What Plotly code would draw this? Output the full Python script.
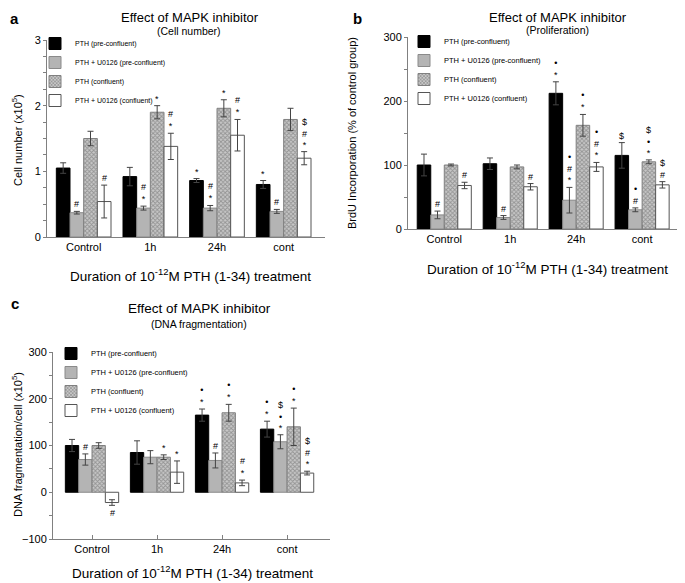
import plotly.graph_objects as go

# Efecto del inhibidor de MAPK: tres paneles (a, b, c)
grupos = ["Control", "1h", "24h", "cont"]
series = ["PTH (pre-confluent)", "PTH + U0126 (pre-confluent)",
          "PTH (confluent)", "PTH + U0126 (confluent)"]

# panel a - cell number (x10^5)
a_pth_pre = [1.05, 0.92, 0.86, 0.80]
a_pth_pre_err = [0.08, 0.14, 0.03, 0.06]
a_u0126_pre = [0.37, 0.44, 0.44, 0.39]
a_u0126_pre_err = [0.02, 0.03, 0.04, 0.03]
a_pth_conf = [1.50, 1.90, 1.96, 1.79]
a_pth_conf_err = [0.11, 0.10, 0.13, 0.17]
a_u0126_conf = [0.54, 1.38, 1.55, 1.20]
a_u0126_conf_err = [0.25, 0.20, 0.24, 0.10]
a_marks = [["", "", "*", "*"],
           ["#", "#<br>*", "#<br>*", "#"],
           ["", "*", "*", ""],
           ["#", "#<br>*", "#<br>*", "$<br>#<br>*"]]

# panel b - BrdU incorporation (% of control)
b_pth_pre = [100, 102, 212, 115]
b_pth_pre_err = [17, 9, 18, 20]
b_u0126_pre = [22, 18, 45, 30]
b_u0126_pre_err = [6, 3, 20, 3]
b_pth_conf = [100, 97, 162, 105]
b_pth_conf_err = [1.5, 3, 17, 3]
b_u0126_conf = [68, 66, 97, 69]
b_u0126_conf_err = [5, 5, 7, 5]
b_marks = [["", "", "•<br>*", "$"],
           ["#", "#", "•<br>#<br>*", "•<br>#"],
           ["", "", "•<br>*", "$<br>•<br>*"],
           ["#", "#", "•<br>#<br>*", "$<br>#"]]

# panel c - DNA fragmentation/cell (x10^5)
c_pth_pre = [100, 85, 165, 135]
c_pth_pre_err = [13, 25, 13, 17]
c_u0126_pre = [70, 75, 68, 108]
c_u0126_pre_err = [12, 14, 16, 15]
c_pth_conf = [100, 75, 170, 140]
c_pth_conf_err = [6, 5, 18, 40]
c_u0126_conf = [-22, 43, 20, 41]
c_u0126_conf_err = [6, 24, 6, 4]
c_marks = [["", "", "•<br>*", "•<br>*"],
           ["#", "", "#", "$<br>•<br>*"],
           ["", "*", "•<br>*", "•<br>*"],
           ["#", "*", "#<br>*", "$<br>#<br>*"]]

# la pagina deja 8px de margen en el body, la figura se corre 8px
OFF = 8
W, H = 685 - OFF, 583 - OFF
FONT = "Liberation Sans, Arial, sans-serif"
BARGAP = 0.18

estilos = [
	dict(color="black", line=dict(color="black", width=1)),
	dict(color="#b4b4b4", line=dict(color="#8a8a8a", width=1)),
	dict(color="#b0b0b0", line=dict(color="#808080", width=1),
	     pattern=dict(shape="x", size=3, solidity=0.5, fgcolor="#5e5e5e", bgcolor="#c8c8c8")),
	dict(color="white", line=dict(color="#555555", width=1)),
]

def fx(px):
	return max(px - OFF, 0) / W

def fy(py):
	return 1 - max(py - OFF, 0) / H

fig = go.Figure()
annots = []

def panel(n, valores, errores, marcas):
	xa = "x" if n == 1 else "x%d" % n
	ya = "y" if n == 1 else "y%d" % n
	leg = "legend" if n == 1 else "legend%d" % n
	ancho = (1 - BARGAP) / 4
	for i in range(4):
		fig.add_trace(go.Bar(
			x=grupos, y=valores[i], name=series[i],
			marker=estilos[i], xaxis=xa, yaxis=ya, legend=leg,
			error_y=dict(type="data", array=errores[i], color="#444444", thickness=1, width=3),
		))
		off = -(1 - BARGAP) / 2 + ancho * (i + 0.5)
		for j in range(4):
			if not marcas[i][j]:
				continue
			v = valores[i][j]
			e = errores[i][j]
			if v < 0:
				annots.append(dict(x=j + off, y=v - e, xref=xa, yref=ya, text=marcas[i][j],
					showarrow=False, yanchor="top", yshift=-1, font=dict(size=9, color="black")))
			else:
				annots.append(dict(x=j + off, y=v + e, xref=xa, yref=ya, text=marcas[i][j],
					showarrow=False, yanchor="bottom", yshift=0, font=dict(size=9, color="black")))

panel(1, [a_pth_pre, a_u0126_pre, a_pth_conf, a_u0126_conf],
      [a_pth_pre_err, a_u0126_pre_err, a_pth_conf_err, a_u0126_conf_err], a_marks)
panel(2, [b_pth_pre, b_u0126_pre, b_pth_conf, b_u0126_conf],
      [b_pth_pre_err, b_u0126_pre_err, b_pth_conf_err, b_u0126_conf_err], b_marks)
panel(3, [c_pth_pre, c_u0126_pre, c_pth_conf, c_u0126_conf],
      [c_pth_pre_err, c_u0126_pre_err, c_pth_conf_err, c_u0126_conf_err], c_marks)

def eje_x(x0, x1, anchor, rango):
	return dict(domain=[fx(x0), fx(x1)], anchor=anchor, type="category", range=rango,
		showline=True, linecolor="#808080", linewidth=1, ticks="inside", ticklen=4,
		tickcolor="#808080", tickfont=dict(size=11, color="black"), showgrid=False,
		zeroline=False, automargin=False)

def eje_y(y0, y1, anchor, rango, dtick, minor):
	return dict(domain=[fy(y1), fy(y0)], anchor=anchor, range=rango, dtick=dtick,
		showline=True, linecolor="#808080", linewidth=1, ticks="outside", ticklen=3,
		tickcolor="#808080", tickfont=dict(size=11, color="black"), showgrid=False,
		zeroline=False, automargin=False,
		minor=dict(dtick=minor, ticks="outside", ticklen=3, tickcolor="#808080"))

def leyenda(x, y, size):
	return dict(x=fx(x), y=fy(y), xanchor="left", yanchor="top", bgcolor="rgba(0,0,0,0)",
		font=dict(size=size, color="black"), itemwidth=30, tracegroupgap=0)

fig.update_layout(
	width=W, height=H, autosize=False,
	margin=dict(l=0, r=0, t=0, b=0),
	paper_bgcolor="white", plot_bgcolor="white",
	font=dict(family=FONT, color="black"),
	barmode="group", bargap=BARGAP, bargroupgap=0,
	xaxis=eje_x(47, 325, "y", [-0.55, 3.62]),
	yaxis=eje_y(40, 237, "x", [0, 3], 1, 0.25),
	xaxis2=eje_x(408, 683, "y2", [-0.55, 3.62]),
	yaxis2=eje_y(37, 229, "x2", [0, 300], 100, 50),
	xaxis3=eje_x(53, 330, "y3", [-0.6, 3.66]),
	yaxis3=eje_y(352, 539, "x3", [-100, 300], 100, 50),
	legend=leyenda(35, 29, 7),
	legend2=leyenda(404, 27, 7.5),
	legend3=leyenda(51, 339, 7.5),
)

textos = [
	# texto, x, y, tamaño, anclaje vertical
	("<b>a</b>", 8, 8, 15, "top"), ("<b>b</b>", 357, 8, 15, "top"), ("<b>c</b>", 9, 303, 15, "middle"),
	("Effect of MAPK inhibitor", 190, 8, 13, "top"), ("(Cell number)", 189, 31, 10.5, "middle"),
	("Effect of MAPK inhibitor", 558, 8, 13, "top"), ("(Proliferation)", 557, 30, 10.5, "middle"),
	("Effect of MAPK inhibitor", 199, 308, 13.5, "middle"), ("(DNA fragmentation)", 199, 324, 10.5, "middle"),
	("Duration of 10<sup>-12</sup>M PTH (1-34) treatment", 190, 275, 13.5, "middle"),
	("Duration of 10<sup>-12</sup>M PTH (1-34) treatment", 547, 268, 13.5, "middle"),
	("Duration of 10<sup>-12</sup>M PTH (1-34) treatment", 192, 583, 13.5, "bottom"),
]
for t, x, y, s, ya in textos:
	xan = "left" if t.startswith("<b>") and x - OFF < 6 else "center"
	annots.append(dict(text=t, x=fx(x), y=fy(y), xref="paper", yref="paper", showarrow=False,
		xanchor=xan, yanchor=ya, font=dict(size=s, color="black")))

ytitulos = [
	("Cell number (x10<sup>5</sup>)", 8, 140),
	("BrdU Incorporation (% of control group)", 352, 133),
	("DNA fragmentation/cell (x10<sup>5</sup>)", 8, 445),
]
for t, x, y in ytitulos:
	xan = "left" if x <= OFF else "center"
	annots.append(dict(text=t, x=fx(x), y=fy(y), xref="paper", yref="paper", showarrow=False,
		textangle=-90, xanchor=xan, yanchor="middle", font=dict(size=11, color="black")))

fig.update_layout(annotations=annots)
fig.write_html("out.html")
